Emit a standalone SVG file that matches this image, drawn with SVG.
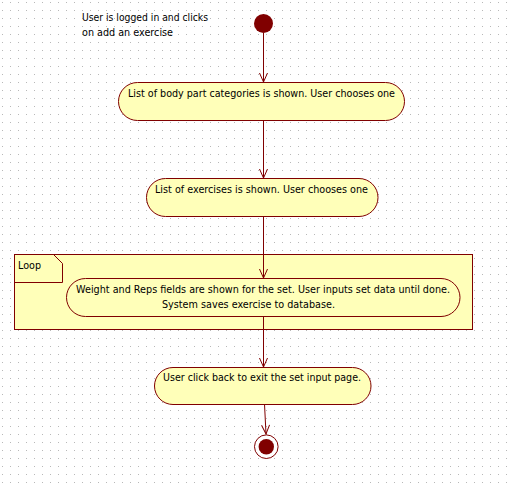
<svg xmlns="http://www.w3.org/2000/svg" width="514" height="486" viewBox="0 0 514 486">
<style>
text{font-family:"DejaVu Sans","Liberation Sans",sans-serif;font-size:11px;fill:#000}
.act{fill:#FFFFB9;stroke:#800000;stroke-width:1}
.edge{stroke:#800000;stroke-width:1;fill:none}
</style>
<defs>
<pattern id="grid" x="0" y="0" width="8" height="8" patternUnits="userSpaceOnUse">
<rect x="2" y="2" width="1" height="1" fill="#b8b8b8"/>
</pattern>
<marker id="arr" markerUnits="userSpaceOnUse" markerWidth="12" markerHeight="12" viewBox="-11 -6 12 12" refX="0" refY="0" orient="auto">
<path d="M-9,-4 L0,0 L-9,4" fill="none" stroke="#800000" stroke-width="1"/>
</marker>
</defs>
<rect width="514" height="486" fill="#fff"/>
<rect width="514" height="486" fill="url(#grid)"/>

<g id="note">
<text x="82" y="21" textLength="126" lengthAdjust="spacingAndGlyphs">User is logged in and clicks</text>
<text x="82" y="36" textLength="91" lengthAdjust="spacingAndGlyphs">on add an exercise</text>
</g>

<g id="loop">
<rect x="14.5" y="254.5" width="458" height="75" fill="#FFFFB9" stroke="#800000"/>
<path d="M14.5,282.5 H62.5 V263.5 L53.5,254.5" fill="none" stroke="#800000"/>
<text x="18" y="269" textLength="23" lengthAdjust="spacingAndGlyphs">Loop</text>
</g>

<g id="connectors">
<line class="edge" x1="263.5" y1="33" x2="263.5" y2="82" marker-end="url(#arr)"/>
<line class="edge" x1="263.5" y1="120" x2="263.5" y2="178" marker-end="url(#arr)"/>
<line class="edge" x1="263.5" y1="216" x2="263.5" y2="278" marker-end="url(#arr)"/>
<line class="edge" x1="263.5" y1="316" x2="263.5" y2="367" marker-end="url(#arr)"/>
<line class="edge" x1="264.5" y1="404" x2="266" y2="434" marker-end="url(#arr)"/>
</g>

<g id="start">
<circle cx="263.5" cy="23.5" r="9.5" fill="#800000"/>
</g>

<g id="a1">
<rect class="act" x="118.5" y="82.5" width="286" height="38" rx="19" ry="19"/>
<text x="128" y="97" textLength="267" lengthAdjust="spacingAndGlyphs">List of body part categories is shown. User chooses one</text>
</g>

<g id="a2">
<rect class="act" x="146.5" y="178.5" width="231.5" height="38" rx="19" ry="19"/>
<text x="155" y="193" textLength="213" lengthAdjust="spacingAndGlyphs">List of exercises is shown. User chooses one</text>
</g>

<g id="a3">
<rect class="act" x="66.5" y="278.5" width="393.5" height="38" rx="19" ry="19"/>
<text x="76" y="293" textLength="374" lengthAdjust="spacingAndGlyphs">Weight and Reps fields are shown for the set. User inputs set data until done.</text>
<text x="162" y="308" textLength="173" lengthAdjust="spacingAndGlyphs">System saves exercise to database.</text>
</g>

<g id="a4">
<rect class="act" x="154.5" y="367.5" width="216.5" height="37" rx="18.5" ry="18.5"/>
<text x="163" y="381" textLength="198" lengthAdjust="spacingAndGlyphs">User click back to exit the set input page.</text>
</g>

<g id="end">
<circle cx="266.3" cy="446.7" r="11.8" fill="#fff" stroke="#800000"/>
<circle cx="266.3" cy="446.7" r="7.7" fill="#800000"/>
</g>
</svg>
